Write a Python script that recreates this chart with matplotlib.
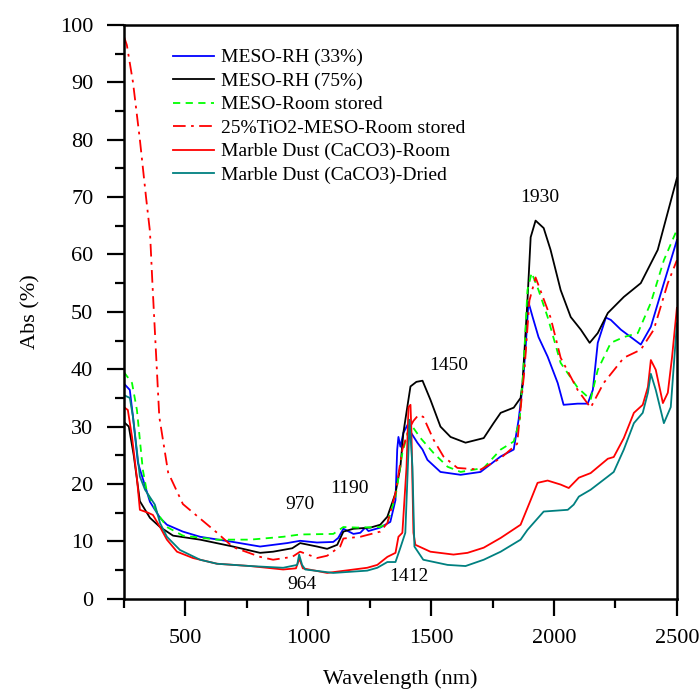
import matplotlib
matplotlib.use('Agg')
import matplotlib.pyplot as plt
from matplotlib.ticker import MultipleLocator

plt.rcParams['font.family'] = ['Liberation Serif', 'DejaVu Serif']

# MESO-RH (33%)
x_rh33 = [250, 274, 287, 307, 356, 397, 425, 490, 560, 694, 804, 914, 967, 1036, 1102, 1122, 1143, 1184,
          1212, 1232, 1245, 1293, 1334, 1355, 1362, 1367, 1375, 1387, 1404, 1416, 1444, 1465, 1485, 1538,
          1620, 1701, 1783, 1836, 1856, 1872, 1884, 1896, 1913, 1937, 1974, 2015, 2039, 2096, 2137, 2158,
          2178, 2211, 2231, 2272, 2353, 2394, 2447, 2500]
y_rh33 = [37.5, 36.4, 31.7, 23.7, 16.9, 14.1, 12.9, 11.7, 10.8, 9.9, 9.1, 9.7, 10.1, 9.8, 9.9, 10.6, 12.2, 11.3,
          11.5, 12.4, 11.8, 12.4, 13.4, 17.2, 26.0, 28.2, 26.5, 28.9, 30.3, 29.1, 27.2, 26.0, 24.2, 22.1,
          21.6, 22.1, 24.8, 26.0, 31.2, 37.0, 43.4, 51.7, 49.1, 45.6, 42.2, 37.6, 33.8, 34.0, 34.0, 36.4,
          44.6, 49.0, 48.6, 46.9, 44.3, 47.4, 55.0, 62.5]

# MESO-RH (75%)
x_rh75 = [250, 270, 290, 315, 356, 397, 450, 560, 694, 804, 857, 935, 967, 1036, 1077, 1118, 1143, 1184,
          1253, 1293, 1322, 1355, 1375, 1387, 1403, 1416, 1440, 1465, 1497, 1538, 1579, 1640, 1714, 1754,
          1783, 1836, 1864, 1872, 1892, 1905, 1925, 1958, 1986, 2027, 2068, 2109, 2145, 2178, 2219, 2284,
          2353, 2422, 2500]
y_rh75 = [30.8, 30.0, 25.0, 17.0, 14.1, 12.5, 11.0, 10.3, 9.1, 8.0, 8.2, 8.8, 9.7, 9.1, 8.7, 9.4, 11.7, 12.2,
          12.4, 12.9, 14.3, 18.4, 23.0, 28.9, 33.4, 37.0, 37.8, 38.0, 34.7, 30.0, 28.2, 27.2, 28.0, 30.6,
          32.4, 33.3, 35.0, 37.6, 52.0, 63.0, 65.9, 64.6, 60.8, 53.8, 49.1, 46.9, 44.6, 46.3, 49.8, 52.6,
          55.0, 60.8, 73.3]

# MESO-Room stored
x_room = [250, 283, 303, 327, 344, 385, 425, 490, 629, 764, 898, 967, 1102, 1143, 1200, 1293, 1322, 1355,
          1383, 1408, 1424, 1457, 1510, 1567, 1620, 1714, 1783, 1836, 1860, 1876, 1892, 1909, 1937, 1974,
          2027, 2096, 2149, 2178, 2231, 2284, 2341, 2394, 2447, 2500]
y_room = [39.5, 37.6, 32.9, 22.5, 18.5, 15.0, 12.5, 11.0, 10.3, 10.3, 10.8, 11.2, 11.3, 12.5, 12.4, 12.5, 13.2, 17.8,
          25.4, 29.4, 30.0, 28.0, 25.4, 23.0, 22.1, 22.8, 26.0, 27.4, 31.0, 40.4, 53.8, 56.8, 53.8, 49.1,
          41.1, 36.8, 34.7, 39.9, 44.6, 45.6, 46.3, 51.6, 59.0, 64.3]

# 25%TiO2-MESO-Room stored
x_tio2 = [250, 262, 287, 315, 340, 356, 366, 378, 394, 430, 490, 629, 694, 804, 857, 935, 967, 1036, 1077,
          1130, 1143, 1212, 1293, 1322, 1355, 1383, 1408, 1428, 1448, 1468, 1510, 1550, 1607, 1701, 1783,
          1850, 1880, 1900, 1925, 1986, 2027, 2096, 2149, 2202, 2284, 2353, 2406, 2463, 2500]
y_tio2 = [98.0, 96.5, 90.0, 80.0, 70.0, 64.0, 55.0, 45.0, 31.7, 22.0, 16.5, 11.5, 9.0, 7.3, 6.8, 7.3, 8.2, 7.1, 7.5,
          9.1, 10.5, 10.8, 11.7, 13.2, 18.4, 26.0, 29.4, 31.0, 32.0, 31.7, 27.7, 24.8, 22.8, 22.5, 24.5,
          27.0, 40.0, 52.0, 56.0, 49.0, 42.0, 36.4, 33.3, 37.6, 42.0, 43.4, 46.9, 55.0, 59.0]

# Marble Dust (CaCO3)-Room
x_mroom = [250, 266, 283, 303, 315, 348, 368, 397, 425, 466, 531, 629, 764, 898, 950, 964, 978, 1077, 1240,
           1281, 1322, 1355, 1367, 1383, 1400, 1408, 1416, 1420, 1428, 1436, 1497, 1591, 1648, 1714, 1783,
           1864, 1905, 1933, 1974, 2027, 2060, 2101, 2149, 2219, 2243, 2284, 2325, 2361, 2382, 2394, 2414,
           2443, 2463, 2480, 2500]
y_mroom = [33.4, 32.9, 28.2, 21.0, 15.5, 15.0, 14.6, 12.5, 10.3, 8.2, 7.1, 6.1, 5.7, 5.1, 5.3, 7.0, 5.3, 4.5, 5.4,
           5.9, 7.3, 8.0, 10.8, 11.5, 23.0, 33.4, 33.8, 28.9, 11.5, 9.4, 8.2, 7.7, 8.0, 8.9, 10.6,
           12.9, 17.2, 20.2, 20.6, 19.9, 19.3, 21.1, 21.9, 24.4, 24.7, 28.0, 32.4, 33.8, 36.9, 41.6, 39.9,
           34.1, 35.9, 42.0, 50.7]

# Marble Dust (CaCO3)-Dried
x_mdry = [250, 274, 287, 315, 336, 376, 397, 425, 478, 560, 629, 764, 898, 955, 963, 975, 988, 1102, 1240,
          1281, 1322, 1355, 1375, 1395, 1408, 1412, 1424, 1432, 1468, 1567, 1640, 1714, 1783, 1864, 1892,
          1958, 2056, 2080, 2101, 2149, 2219, 2243, 2284, 2325, 2361, 2382, 2394, 2414, 2447, 2475, 2500]
y_mdry = [35.5, 35.0, 31.7, 21.3, 19.0, 16.4, 13.2, 10.8, 8.5, 6.8, 6.1, 5.7, 5.4, 5.9, 7.7, 5.9, 5.1, 4.5, 4.9,
          5.4, 6.4, 6.4, 8.9, 11.5, 26.0, 31.2, 23.0, 9.1, 6.8, 5.9, 5.7, 6.8, 8.2, 10.3, 12.0,
          15.2, 15.5, 16.4, 17.8, 19.0, 21.3, 22.1, 26.0, 30.6, 32.4, 35.9, 39.2, 36.4, 30.6, 33.4, 48.0]

labels = ['MESO-RH (33%)', 'MESO-RH (75%)', 'MESO-Room stored', '25%TiO2-MESO-Room stored',
          'Marble Dust (CaCO3)-Room', 'Marble Dust (CaCO3)-Dried']

peak_labels = ['1930', '1450', '1190', '970', '964', '1412']
peak_x = [1941, 1571, 1167, 967, 976, 1408]
peak_y = [69.9, 40.6, 19.3, 16.4, 2.4, 3.8]

fig = plt.figure(figsize=(7, 6.93), dpi=100)
ax = fig.add_axes([0.177, 0.136, 0.79, 0.828])

lw = 1.3
ax.plot(x_rh33, y_rh33, color='#0000ff', lw=lw, label=labels[0])
ax.plot(x_rh75, y_rh75, color='black', lw=lw, label=labels[1])
ax.plot(x_room, y_room, color='#00ff00', lw=lw, ls=(0, (4, 3)), label=labels[2])
ax.plot(x_tio2, y_tio2, color='#ff0000', lw=lw, ls=(0, (7, 3, 1.5, 3)), label=labels[3])
ax.plot(x_mroom, y_mroom, color='#ff0000', lw=lw, label=labels[4])
ax.plot(x_mdry, y_mdry, color='#008080', lw=lw, label=labels[5])

for t, xx, yy in zip(peak_labels, peak_x, peak_y):
    ax.text(xx, yy, t, fontsize=14, ha='center', va='center')

ax.set_xlim(250, 2500)
ax.set_ylim(0, 100)
ax.xaxis.set_major_locator(MultipleLocator(500))
ax.xaxis.set_minor_locator(MultipleLocator(250))
ax.yaxis.set_major_locator(MultipleLocator(10))
ax.yaxis.set_minor_locator(MultipleLocator(5))
ax.tick_params(which='major', direction='out', length=12, width=1.6, labelsize=16, pad=10)
ax.tick_params(which='minor', direction='out', length=6.5, width=1.6)
for s in ax.spines.values():
    s.set_linewidth(1.8)

ax.set_xlabel('Wavelength (nm)', fontsize=16, labelpad=15)
ax.set_ylabel('Abs (%)', fontsize=16, labelpad=14)

ax.legend(loc='upper left', bbox_to_anchor=(0.075, 0.972), frameon=False, fontsize=14,
          handlelength=2.1, handletextpad=0.35, labelspacing=0.3, borderaxespad=0)

fig.savefig('out.png', dpi=100)
